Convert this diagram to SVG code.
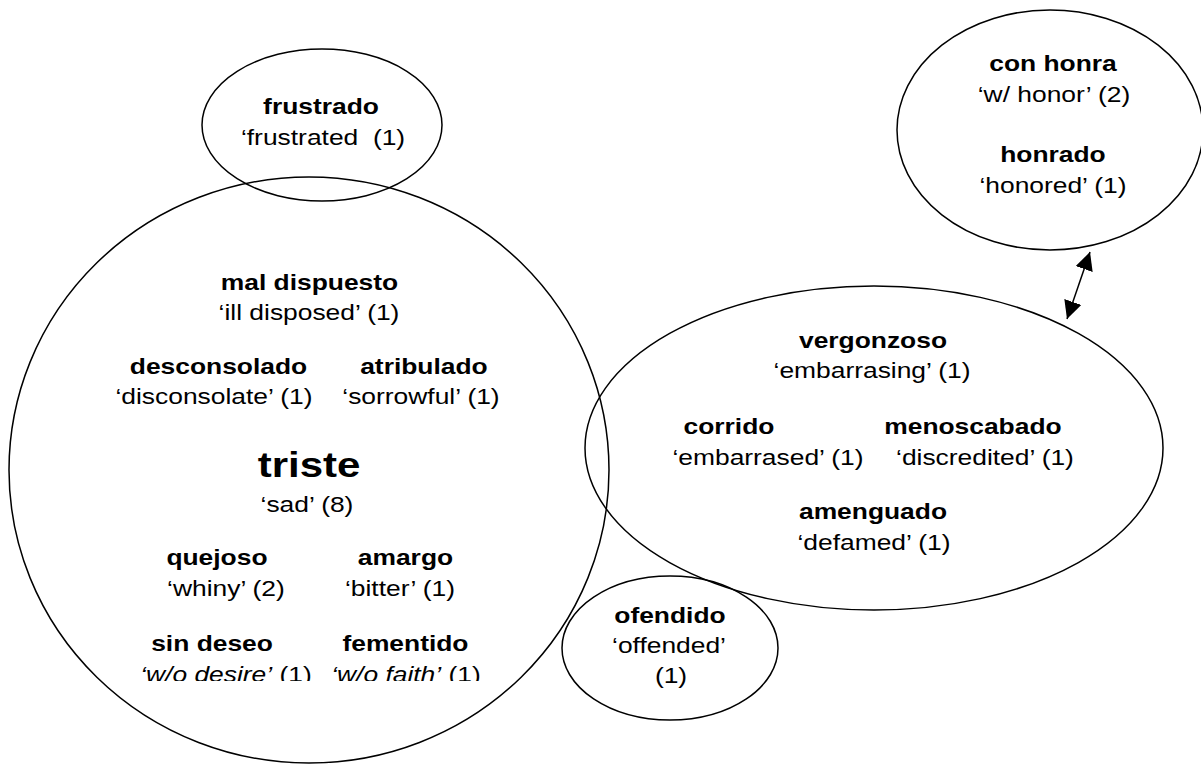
<svg xmlns="http://www.w3.org/2000/svg" width="1201" height="765" viewBox="0 0 1201 765">
<style>
.shape{fill:none;stroke:#000;stroke-width:1.5}
text{font-family:"Liberation Sans",Arial,Helvetica,sans-serif;font-size:22px;text-anchor:middle;fill:#000}
.b{font-weight:bold}
.big{font-weight:bold;font-size:35px}
.it{font-style:italic}
.conn{stroke:#000;stroke-width:1.5;fill:none}
</style>
<defs>
<marker id="ah" viewBox="0 0 18 18" refX="18" refY="9" markerWidth="18" markerHeight="18" markerUnits="userSpaceOnUse" orient="auto-start-reverse">
<path d="M0,0 L18,9 L0,18 z" fill="#000"/>
</marker>
<clipPath id="cut" clipPathUnits="userSpaceOnUse"><rect x="0" y="0" width="1201" height="681"/></clipPath>
</defs>
<rect x="0" y="0" width="1201" height="765" fill="#fff"/>

<g id="node-triste">
<ellipse class="shape" cx="309" cy="470" rx="300" ry="293"/>
<g transform="scale(1.2 1)">
<text class="b" x="257.9" y="290">mal dispuesto</text>
<text x="257.5" y="320">‘ill disposed’ (1)</text>
<text class="b" x="182.1" y="374">desconsolado</text>
<text x="178.3" y="404">‘disconsolate’ (1)</text>
<text class="b" x="353.3" y="374">atribulado</text>
<text x="350.8" y="404">‘sorrowful’ (1)</text>
<text class="big" x="257.5" y="477">triste</text>
<text x="255.8" y="512">‘sad’ (8)</text>
<text class="b" x="180.8" y="565">quejoso</text>
<text x="188.3" y="596">‘whiny’ (2)</text>
<text class="b" x="337.9" y="565">amargo</text>
<text x="333.3" y="596">‘bitter’ (1)</text>
<text class="b" x="176.7" y="651">sin deseo</text>
<text x="188.3" y="682" clip-path="url(#cut)"><tspan class="it">‘w/o desire’</tspan> (1)</text>
<text class="b" x="337.9" y="651">fementido</text>
<text x="338.3" y="682" clip-path="url(#cut)"><tspan class="it">‘w/o faith’</tspan> (1)</text>
</g>
</g>

<g id="node-frustrado">
<ellipse class="shape" cx="322" cy="125" rx="120" ry="76"/>
<g transform="scale(1.2 1)">
<text class="b" x="267.5" y="114">frustrado</text>
<text x="269.2" y="145" style="white-space:pre">‘frustrated  (1)</text>
</g>
</g>

<g id="node-honra">
<ellipse class="shape" cx="1050" cy="130" rx="153" ry="120"/>
<g transform="scale(1.2 1)">
<text class="b" x="877.5" y="71">con honra</text>
<text x="878.3" y="102">‘w/ honor’ (2)</text>
<text class="b" x="877.5" y="162">honrado</text>
<text x="877.5" y="193">‘honored’ (1)</text>
</g>
</g>

<g id="node-vergonzoso">
<ellipse class="shape" cx="874" cy="448" rx="289" ry="162"/>
<g transform="scale(1.2 1)">
<text class="b" x="727.5" y="348">vergonzoso</text>
<text x="726.7" y="378">‘embarrasing’ (1)</text>
<text class="b" x="607.5" y="434">corrido</text>
<text x="640" y="465">‘embarrased’ (1)</text>
<text class="b" x="810.8" y="434">menoscabado</text>
<text x="820.8" y="465">‘discredited’ (1)</text>
<text class="b" x="727.5" y="519">amenguado</text>
<text x="728.3" y="550">‘defamed’ (1)</text>
</g>
</g>

<g id="node-ofendido">
<ellipse class="shape" cx="670" cy="648" rx="108" ry="72"/>
<g transform="scale(1.2 1)">
<text class="b" x="558.3" y="623">ofendido</text>
<text x="557.5" y="653">‘offended’</text>
<text x="559.2" y="683">(1)</text>
</g>
</g>

<g id="connectors">
<line class="conn" x1="1067" y1="319" x2="1090" y2="252" marker-start="url(#ah)" marker-end="url(#ah)"/>
</g>
</svg>
